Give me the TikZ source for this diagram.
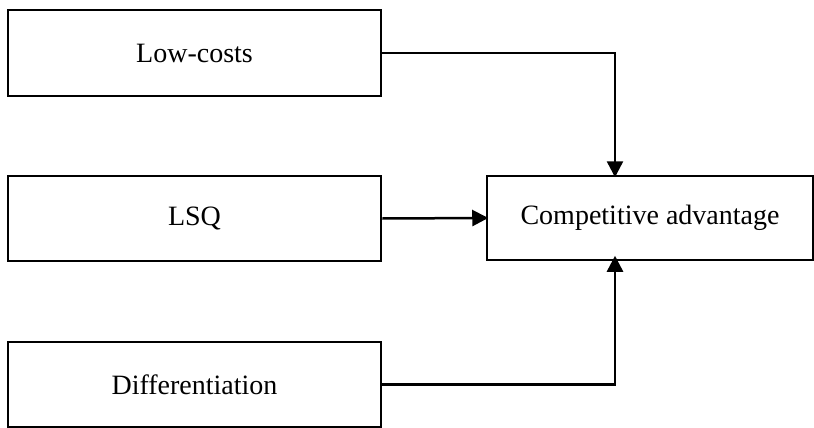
\documentclass[tikz,border=0pt]{standalone}
\usepackage{fontspec}
\setmainfont{Liberation Serif}
\usetikzlibrary{arrows.meta,calc}
\begin{document}
\begin{tikzpicture}[x=1pt,y=-1pt,
  factor/.style={draw,line width=2.8pt,minimum width=373pt,minimum height=85pt,inner sep=0pt,font=\fontsize{28}{32}\selectfont},
  outcome/.style={draw,line width=1.5pt,minimum width=326pt,minimum height=84pt,inner sep=0pt,font=\fontsize{28}{32}\selectfont},
  link/.style={line width=2.5pt,-{Triangle[length=16pt,width=16pt]},shorten >=-2pt}]
  \useasboundingbox (0,0) rectangle (814,428);
  % three source boxes
  \node[factor,minimum height=86pt] (low) at (194.5,53) {Low-costs};
  \node[factor] (lsq) at (194.5,218.5) {LSQ};
  \node[factor] (diff) at (194.5,384.5) {Differentiation};
  % target box
  \node[outcome] (comp) at (650,218) {Competitive advantage};
  % vertical run shared by the upper and lower connectors
  \coordinate (vx) at (615,0);
  \draw[link] (low.east) -| (vx |- comp.north);
  \draw[link] (lsq.east) -- (comp.west);
  \draw[link,shorten >=-5pt] (diff.east) -| (vx |- comp.south);
\end{tikzpicture}
\end{document}
